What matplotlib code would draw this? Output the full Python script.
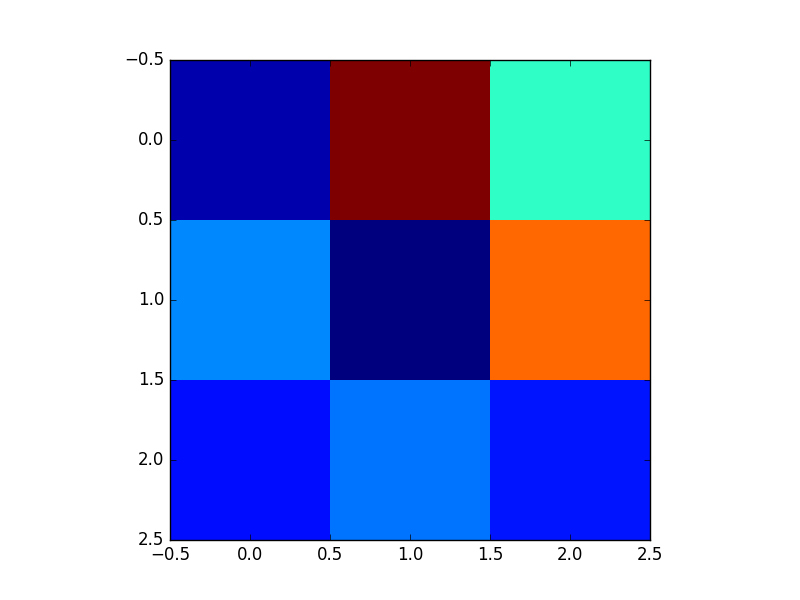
import matplotlib
matplotlib.use("Agg")
import matplotlib.pyplot as plt
import numpy as np

plt.style.use("classic")

row0 = [0.04, 1.00, 0.41]
row1 = [0.26, 0.00, 0.80]
row2 = [0.138, 0.24, 0.145]

data = np.array([row0, row1, row2])

fig = plt.figure(figsize=(8, 6), dpi=100, facecolor="white")
ax = fig.add_subplot(111)
ax.imshow(data, cmap="jet", interpolation="nearest")
fig.savefig("out.png", dpi=100, facecolor="white")
